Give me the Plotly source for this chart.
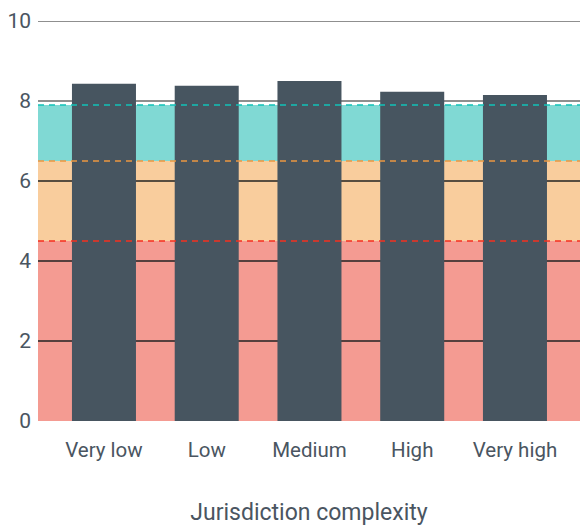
import plotly.graph_objects as go

categories = ["Very low", "Low", "Medium", "High", "Very high"]
values = [8.43, 8.38, 8.5, 8.23, 8.15]
bands = [(0, 4.5, "#f49b92", "#f5301f"), (4.5, 6.5, "#f9cd9d", "#eb9640"), (6.5, 7.9, "#80d9d4", "#12c2b8")]
y_ticks = [0, 2, 4, 6, 8, 10]

fig = go.Figure()
fig.add_trace(go.Bar(x=list(range(len(categories))), y=values, width=0.623,
                     marker=dict(color="#475560", line=dict(width=0)), hoverinfo="skip"))

shapes = []
for lo, hi, fill, line in bands:
    shapes.append(dict(type="rect", xref="paper", x0=0, x1=1, y0=lo, y1=hi,
                       fillcolor=fill, line=dict(width=0), layer="below"))
for t in y_ticks[1:]:
    col = "#6a6a6a" if t >= 8 else "#222222"
    shapes.append(dict(type="line", xref="paper", x0=0, x1=1, y0=t, y1=t,
                       line=dict(color=col, width=1.5), layer="below"))
for lo, hi, fill, line in bands:
    shapes.append(dict(type="line", xref="paper", x0=0, x1=1, y0=hi, y1=hi,
                       line=dict(color=line, width=1.3, dash="6px,5px"), layer="above"))

fig.update_layout(
    width=580, height=526,
    margin=dict(l=38, r=0, t=21, b=105),
    paper_bgcolor="white", plot_bgcolor="white",
    showlegend=False,
    shapes=shapes,
    font=dict(family="Roboto", color="#4a5561"),
    xaxis=dict(tickmode="array", tickvals=list(range(len(categories))), ticktext=categories,
               range=[-0.642, 4.633], showgrid=False, zeroline=False, showline=False,
               tickfont=dict(size=20.5), ticks="", ticklen=0, ticklabelstandoff=14,
               title=dict(text="Jurisdiction complexity", font=dict(size=23), standoff=47)),
    yaxis=dict(range=[0, 10], tickvals=y_ticks, showgrid=False, zeroline=False, showline=False,
               tickfont=dict(size=21), ticks="", ticklen=0, ticklabelstandoff=6),
)
fig.write_html("out.html")
